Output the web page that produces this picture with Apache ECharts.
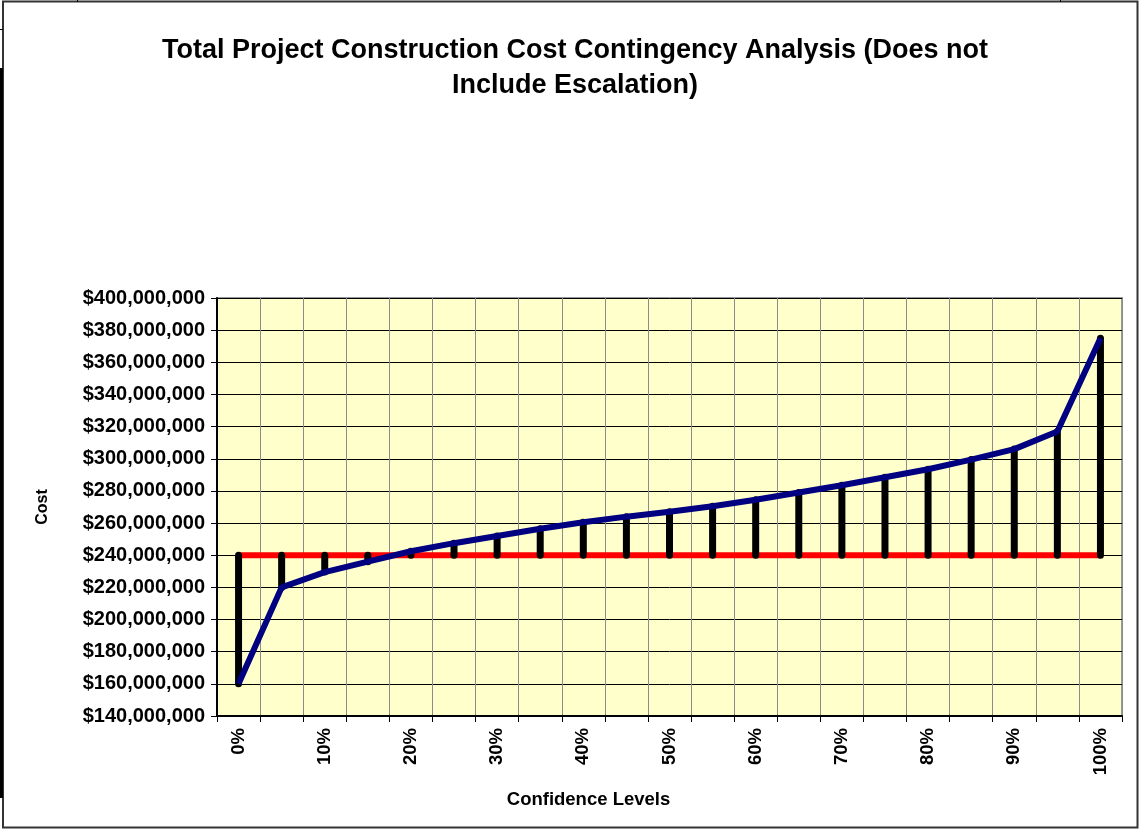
<!DOCTYPE html>
<html>
<head>
<meta charset="utf-8">
<script src="https://cdn.jsdelivr.net/npm/echarts@6/dist/echarts.min.js"></script>
<style>
  html, body { margin: 0; padding: 0; background: #fff; }
  #main { width: 1139px; height: 830px; }
</style>
</head>
<body>
<div id="main"></div>
<script>
// confidence levels (x categories)
var levels = ['0%', '5%', '10%', '15%', '20%', '25%', '30%', '35%', '40%', '45%', '50%',
              '55%', '60%', '65%', '70%', '75%', '80%', '85%', '90%', '95%', '100%'];
// total cost at each confidence level, in $ millions
var costs = [160, 220, 229.5, 236, 242.5, 247.5, 252, 256.5, 260.5, 264, 267,
             270.5, 274.5, 279, 283.5, 288.5, 293.5, 299.5, 306, 317, 375];
// base estimate (red line), in $ millions
var baseCost = [240, 240, 240, 240, 240, 240, 240, 240, 240, 240, 240,
                240, 240, 240, 240, 240, 240, 240, 240, 240, 240];
// y axis ticks, in $ millions
var yTicks = [140, 160, 180, 200, 220, 240, 260, 280, 300, 320, 340, 360, 380, 400];

var FONT = 'Arial, "Liberation Sans", sans-serif';

function money(m) {
    // m is in millions -> "$400,000,000"
    return '$' + m + ',000,000';
}

var myChart = echarts.init(document.getElementById('main'));

var option = {
    animation: false,
    backgroundColor: '#ffffff',
    title: {
        text: 'Total Project Construction Cost Contingency Analysis (Does not\nInclude Escalation)',
        left: 575,
        textAlign: 'center',
        top: 33,
        padding: 0,
        textStyle: {
            fontFamily: FONT,
            fontSize: 27,
            fontWeight: 'bold',
            color: '#000',
            lineHeight: 35
        }
    },
    graphic: [
        // sheet/cell edges around the chart object
        { type: 'rect', shape: { x: 3, y: 1.5, width: 1134.5, height: 826 },
          style: { fill: null, stroke: '#333', lineWidth: 2 }, silent: true },
        { type: 'rect', shape: { x: 0, y: 68, width: 3, height: 730 },
          style: { fill: '#000' }, silent: true },
        { type: 'line', shape: { x1: 0, y1: 29.5, x2: 3, y2: 29.5 },
          style: { stroke: '#000', lineWidth: 1 }, silent: true },
        { type: 'line', shape: { x1: 77.5, y1: 0, x2: 77.5, y2: 2 },
          style: { stroke: '#000', lineWidth: 1 }, silent: true },
        { type: 'line', shape: { x1: 1060.5, y1: 0, x2: 1060.5, y2: 2 },
          style: { stroke: '#000', lineWidth: 1 }, silent: true }
    ],
    grid: {
        left: 217,
        right: 17,
        top: 298,
        bottom: 114,
        show: true,
        backgroundColor: '#FFFFCC',
        borderColor: '#999999',
        borderWidth: 2
    },
    xAxis: {
        type: 'category',
        data: levels,
        boundaryGap: true,
        name: 'Confidence Levels',
        nameLocation: 'middle',
        nameGap: 74,
        nameTextStyle: {
            fontFamily: FONT, fontSize: 18.5, fontWeight: 'bold', color: '#000',
            padding: [0, 162, 0, 0]
        },
        axisLine: { show: true, lineStyle: { color: '#000', width: 2 } },
        axisTick: { show: true, interval: 0, length: 6, lineStyle: { color: '#000', width: 1 } },
        axisLabel: {
            interval: 1,
            rotate: 90,
            margin: 12,
            fontFamily: FONT,
            fontSize: 18.5,
            fontWeight: 'bold',
            color: '#000'
        },
        splitLine: { show: true, interval: 0, lineStyle: { color: '#8c8c8c', width: 1 } }
    },
    yAxis: {
        type: 'value',
        min: yTicks[0],
        max: yTicks[yTicks.length - 1],
        interval: yTicks[1] - yTicks[0],
        name: 'Cost',
        nameLocation: 'middle',
        nameRotate: 90,
        nameGap: 166,
        nameTextStyle: { fontFamily: FONT, fontSize: 16, fontWeight: 'bold', color: '#000' },
        axisLine: { show: true, lineStyle: { color: '#000', width: 2 } },
        axisTick: { show: true, length: 6, lineStyle: { color: '#000', width: 1 } },
        axisLabel: {
            margin: 12,
            formatter: money,
            fontFamily: FONT,
            fontSize: 20,
            fontWeight: 'bold',
            color: '#000'
        },
        splitLine: { show: true, lineStyle: { color: '#000', width: 1 } }
    },
    series: [
        {
            name: 'Base Estimate',
            type: 'line',
            data: baseCost,
            symbol: 'none',
            z: 2,
            lineStyle: { color: '#FF0000', width: 6 }
        },
        {
            name: 'Contingency',
            type: 'custom',
            z: 3,
            encode: { x: 0, y: [1, 2] },
            data: levels.map(function (c, i) { return [i, baseCost[i], costs[i]]; }),
            renderItem: function (params, api) {
                var p1 = api.coord([api.value(0), api.value(1)]);
                var p2 = api.coord([api.value(0), api.value(2)]);
                return {
                    type: 'line',
                    shape: { x1: p1[0], y1: p1[1], x2: p2[0], y2: p2[1] },
                    style: { stroke: '#000', lineWidth: 7, lineCap: 'round' }
                };
            }
        },
        {
            name: 'Total Cost',
            type: 'line',
            data: costs,
            symbol: 'none',
            z: 4,
            lineStyle: { color: '#000080', width: 6 }
        }
    ]
};

myChart.setOption(option);
</script>
</body>
</html>
